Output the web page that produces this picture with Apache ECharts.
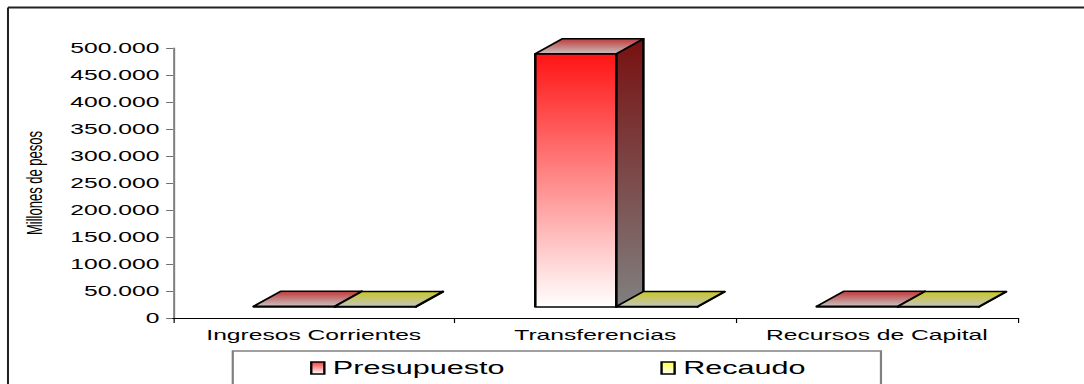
<!DOCTYPE html>
<html>
<head>
<meta charset="utf-8">
<title>Ingresos</title>
<script src="https://cdn.jsdelivr.net/npm/echarts@6/dist/echarts.min.js"></script>
<style>
  html, body { margin: 0; padding: 0; background: #ffffff; overflow: hidden; }
  #wrap { width: 1084px; height: 384px; overflow: hidden; position: relative; }
  /* the chart is laid out narrow and widened horizontally, like the exported workbook chart */
  #chart { width: 638px; height: 384px; transform: scaleX(1.69906); transform-origin: 0 0; }
</style>
</head>
<body>
<div id="wrap"><div id="chart"></div></div>
<script>
// ---- data ----
const categories = ['Ingresos Corrientes', 'Transferencias', 'Recursos de Capital'];
const presupuesto = [1500, 469000, 1300];
const recaudo = [1100, 800, 900];
const seriesNames = ['Presupuesto', 'Recaudo'];
const yMin = 0, yMax = 500000, yStep = 50000;

const FONT = 'Liberation Sans, Arial, sans-serif';
const G = echarts.graphic;
const vgrad = (stops) => new G.LinearGradient(0, 0, 0, 1, stops.map((c, i) => ({ offset: i / (stops.length - 1), color: c })));

const palettes = [
  { front: ['#ff1414', '#ff8a8a', '#ffffff'], side: ['#781010', '#808080'], top: ['#c03a3a', '#c8c0c0'], legend: ['#ff3c3c', '#ffffff'] },
  { front: ['#ffff20', '#ffff9a', '#ffffff'], side: ['#808000', '#808080'], top: ['#c8c828', '#c4c4bc'], legend: ['#ffff40', '#ffffff'] }
];

// 3D column: front face, right side and top, drawn from the axis coordinates
function bar3d(side, pal) {
  return function (params, api) {
    const idx = api.value(0);
    const base = api.coord([idx, 0]);
    const top = api.coord([idx, api.value(1)]);
    const band = api.size([1, 0])[0];
    const w = band * 0.288;
    const shift = band * 0.075;
    const lift = 11, dx = 15.9, dy = 15;
    const xL = base[0] + shift + (side < 0 ? -w : 0);
    const xR = xL + w;
    const yB = base[1] - lift;
    const yT = top[1] - lift;
    const edge = { stroke: '#000000', lineWidth: 1.5, lineJoin: 'round' };
    return {
      type: 'group',
      children: [
        { type: 'polygon', shape: { points: [[xL, yT], [xR, yT], [xR, yB], [xL, yB]] },
          style: Object.assign({ fill: vgrad(pal.front) }, edge) },
        { type: 'polygon', shape: { points: [[xR, yT], [xR + dx, yT - dy], [xR + dx, yB - dy], [xR, yB]] },
          style: Object.assign({ fill: vgrad(pal.side) }, edge) },
        { type: 'polygon', shape: { points: [[xL, yT], [xL + dx, yT - dy], [xR + dx, yT - dy], [xR, yT]] },
          style: Object.assign({ fill: vgrad(pal.top) }, edge) }
      ]
    };
  };
}

const thousands = (v) => String(v).replace(/\B(?=(\d{3})+(?!\d))/g, '.');

const chart = echarts.init(document.getElementById('chart'), null, { renderer: 'svg' });

chart.setOption({
  backgroundColor: '#ffffff',
  animation: false,
  grid: { left: 101.8, right: 39.1, top: 48, bottom: 66, containLabel: false },
  xAxis: {
    type: 'category',
    data: categories,
    axisLine: { lineStyle: { color: '#000000', width: 1 } },
    axisTick: { show: true, length: 5, lineStyle: { color: '#000000', width: 0.7 } },
    axisLabel: { interval: 0, color: '#000000', fontSize: 14.5, fontFamily: FONT, margin: 9 },
    splitLine: { show: false }
  },
  yAxis: {
    type: 'value',
    min: yMin, max: yMax, interval: yStep,
    name: 'Millones de pesos',
    nameLocation: 'middle',
    nameRotate: 90,
    nameGap: 75,
    nameTextStyle: { color: '#000000', fontSize: 13, fontFamily: FONT },
    axisLine: { show: true, lineStyle: { color: '#808080', width: 1.2 } },
    axisTick: { show: true, length: 4, lineStyle: { color: '#333333', width: 0.7 } },
    axisLabel: { color: '#000000', fontSize: 14.5, fontFamily: FONT, margin: 8, formatter: thousands },
    splitLine: { show: false }
  },
  legend: {
    left: 182.5, top: 359,
    padding: 0,
    itemGap: 91.7,
    itemWidth: 7.7, itemHeight: 12,
    textStyle: { color: '#000000', fontSize: 18, fontFamily: FONT },
    data: seriesNames.map((n, i) => ({
      name: n, icon: 'rect',
      itemStyle: { color: vgrad(palettes[i].legend), borderColor: '#000000', borderWidth: 1.4 }
    }))
  },
  graphic: [
    // chart frame
    { type: 'line', shape: { x1: 4.7, y1: 7.5, x2: 700, y2: 7.5 }, style: { stroke: '#222222', lineWidth: 2 }, silent: true },
    { type: 'line', shape: { x1: 4.7, y1: 7.5, x2: 4.7, y2: 400 }, style: { stroke: '#222222', lineWidth: 1.2 }, silent: true },
    // legend frame
    { type: 'rect', shape: { x: 137, y: 351, width: 381.5, height: 80 }, style: { fill: 'none', stroke: '#808080', lineWidth: 1.3 }, silent: true, z: -1 }
  ],
  series: [
    {
      type: 'custom', name: seriesNames[0],
      renderItem: bar3d(-1, palettes[0]),
      itemStyle: { color: '#ff4040' },
      data: presupuesto.map((v, i) => [i, v]),
      encode: { x: 0, y: 1 }
    },
    {
      type: 'custom', name: seriesNames[1],
      renderItem: bar3d(1, palettes[1]),
      itemStyle: { color: '#ffff40' },
      data: recaudo.map((v, i) => [i, v]),
      encode: { x: 0, y: 1 }
    }
  ]
});
</script>
</body>
</html>
